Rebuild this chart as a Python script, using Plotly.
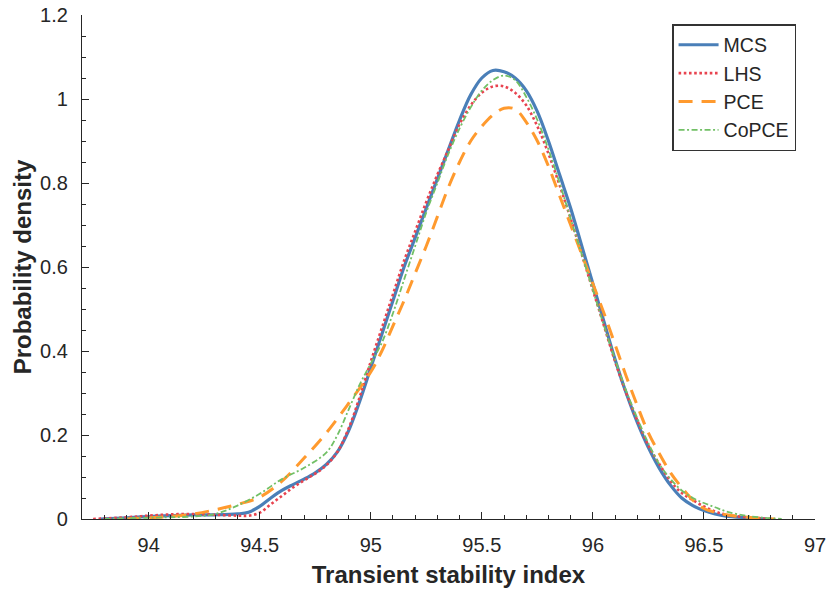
import plotly.graph_objects as go

# ---- data ----
mcs_x = [93.78, 93.9, 94.0, 94.1, 94.2, 94.3, 94.4, 94.45, 94.5, 94.55, 94.6, 94.65, 94.7, 94.75, 94.8,
         94.85, 94.9, 94.95, 95.0, 95.05, 95.1, 95.15, 95.2, 95.25, 95.3, 95.35, 95.4, 95.45, 95.5,
         95.55, 95.6, 95.65, 95.7, 95.75, 95.8, 95.85, 95.9, 95.95, 96.0, 96.05, 96.1, 96.15, 96.2,
         96.25, 96.3, 96.35, 96.4, 96.45, 96.5, 96.55, 96.6, 96.7, 96.78]
mcs_y = [0.0, 0.003, 0.006, 0.008, 0.01, 0.01, 0.012, 0.016, 0.03, 0.05, 0.068, 0.082, 0.095, 0.11, 0.13,
         0.16, 0.21, 0.28, 0.36, 0.44, 0.52, 0.6, 0.67, 0.74, 0.81, 0.88, 0.95, 1.01, 1.05,
         1.068, 1.065, 1.05, 1.02, 0.97, 0.9, 0.82, 0.74, 0.65, 0.56, 0.47, 0.38, 0.3, 0.23,
         0.17, 0.12, 0.08, 0.05, 0.032, 0.02, 0.012, 0.007, 0.003, 0.0]

lhs_x = [93.75, 93.9, 94.0, 94.1, 94.2, 94.3, 94.4, 94.45, 94.5, 94.55, 94.6, 94.65, 94.7, 94.75, 94.8,
         94.85, 94.9, 94.95, 95.0, 95.05, 95.1, 95.15, 95.2, 95.25, 95.3, 95.35, 95.4, 95.45, 95.5,
         95.55, 95.6, 95.65, 95.7, 95.75, 95.8, 95.85, 95.9, 95.95, 96.0, 96.05, 96.1, 96.15, 96.2,
         96.25, 96.3, 96.35, 96.4, 96.45, 96.5, 96.55, 96.6, 96.7, 96.8]
lhs_y = [0.0, 0.004, 0.008, 0.011, 0.012, 0.01, 0.008, 0.008, 0.015, 0.035, 0.055, 0.075, 0.092, 0.108, 0.128,
         0.16, 0.215, 0.29, 0.375, 0.455, 0.535, 0.615, 0.685, 0.755, 0.82, 0.88, 0.94, 0.985, 1.015,
         1.03, 1.03, 1.015, 0.985, 0.935, 0.87, 0.795, 0.715, 0.63, 0.545, 0.46, 0.375, 0.3, 0.235,
         0.175, 0.13, 0.09, 0.062, 0.045, 0.03, 0.018, 0.01, 0.004, 0.0]

pce_x = [93.9, 94.0, 94.1, 94.2, 94.3, 94.4, 94.5, 94.6, 94.7, 94.8, 94.9, 95.0, 95.05, 95.1, 95.15,
         95.2, 95.25, 95.3, 95.35, 95.4, 95.45, 95.5, 95.55, 95.6, 95.65, 95.7, 95.75, 95.8, 95.85,
         95.9, 95.95, 96.0, 96.05, 96.1, 96.15, 96.2, 96.25, 96.3, 96.35, 96.4, 96.45, 96.5, 96.6,
         96.7, 96.82]
pce_y = [0.0, 0.003, 0.006, 0.012, 0.022, 0.035, 0.052, 0.09, 0.145, 0.205, 0.275, 0.35, 0.4, 0.46, 0.52,
         0.585, 0.65, 0.72, 0.79, 0.85, 0.9, 0.935, 0.962, 0.978, 0.976, 0.945, 0.9, 0.84, 0.77,
         0.7, 0.63, 0.56, 0.49, 0.415, 0.34, 0.27, 0.205, 0.155, 0.11, 0.075, 0.045, 0.025, 0.01,
         0.004, 0.0]

copce_x = [93.8, 94.0, 94.2, 94.3, 94.4, 94.5, 94.6, 94.7, 94.8, 94.85, 94.9, 94.95, 95.0, 95.05, 95.1,
           95.15, 95.2, 95.25, 95.3, 95.35, 95.4, 95.45, 95.5, 95.55, 95.6, 95.65, 95.7, 95.75, 95.8,
           95.85, 95.9, 95.95, 96.0, 96.05, 96.1, 96.15, 96.2, 96.25, 96.3, 96.35, 96.4, 96.45, 96.5,
           96.55, 96.6, 96.7, 96.85]
copce_y = [0.0, 0.003, 0.006, 0.012, 0.032, 0.06, 0.095, 0.122, 0.158, 0.2, 0.26, 0.32, 0.37, 0.42, 0.49,
           0.57, 0.65, 0.73, 0.8, 0.87, 0.93, 0.98, 1.02, 1.045, 1.056, 1.045, 1.005, 0.95, 0.88,
           0.8, 0.715, 0.63, 0.545, 0.46, 0.38, 0.305, 0.24, 0.18, 0.13, 0.095, 0.068, 0.05, 0.038,
           0.028, 0.018, 0.007, 0.0]

x_ticks = [94, 94.5, 95, 95.5, 96, 96.5, 97]
x_tick_labels = ["94", "94.5", "95", "95.5", "96", "96.5", "97"]
y_ticks = [0, 0.2, 0.4, 0.6, 0.8, 1.0, 1.2]
y_tick_labels = ["0", "0.2", "0.4", "0.6", "0.8", "1", "1.2"]

FONT = "Liberation Sans, Arial, sans-serif"
INK = "#262626"

fig = go.Figure()
fig.add_trace(go.Scatter(x=mcs_x, y=mcs_y, name="MCS", mode="lines",
                         line=dict(color="#4a7fb8", width=3.2, shape="spline")))
fig.add_trace(go.Scatter(x=lhs_x, y=lhs_y, name="LHS", mode="lines",
                         line=dict(color="#e8434f", width=2.6, dash="2.6px,2.6px", shape="spline")))
fig.add_trace(go.Scatter(x=pce_x, y=pce_y, name="PCE", mode="lines",
                         line=dict(color="#ff9a2e", width=3, dash="14px,9px", shape="spline")))
fig.add_trace(go.Scatter(x=copce_x, y=copce_y, name="CoPCE", mode="lines",
                         line=dict(color="#72c066", width=1.8, dash="6px,2.5px,2px,2.5px", shape="spline")))

axis_common = dict(
    showline=True, linecolor=INK, linewidth=1.2,
    ticks="inside", ticklen=7, tickwidth=1.2, tickcolor=INK,
    showgrid=False, zeroline=False, mirror=False,
    automargin=False, ticklabeloverflow="allow",
    tickfont=dict(family=FONT, size=20, color=INK),
)

fig.update_layout(
    width=826, height=591,
    margin=dict(l=82, r=11, t=15, b=72),
    paper_bgcolor="white", plot_bgcolor="white",
    xaxis=dict(range=[93.7, 97.0], tickvals=x_ticks, ticktext=x_tick_labels,
               ticklabelstandoff=8,
               minor=dict(dtick=0.1, tick0=94, ticks="inside", ticklen=4, tickwidth=1.2, tickcolor=INK),
               title=dict(text="<b>Transient stability index</b>", standoff=11,
                          font=dict(family=FONT, size=24, color=INK)),
               **axis_common),
    yaxis=dict(range=[0, 1.2], tickvals=y_ticks, ticktext=y_tick_labels,
               ticklabelstandoff=9,
               minor=dict(dtick=0.05, tick0=0, ticks="inside", ticklen=4, tickwidth=1.2, tickcolor=INK),
               title=dict(text="<b>Probability density</b>", standoff=1,
                          font=dict(family=FONT, size=24, color=INK)),
               **axis_common),
    legend=dict(x=0.805, y=0.982, xanchor="left", yanchor="top",
                bgcolor="white", bordercolor="#333333", borderwidth=1.5,
                font=dict(family=FONT, size=19.5, color=INK),
                tracegroupgap=0, itemwidth=40),
    showlegend=True,
)

fig.write_html("out.html")
